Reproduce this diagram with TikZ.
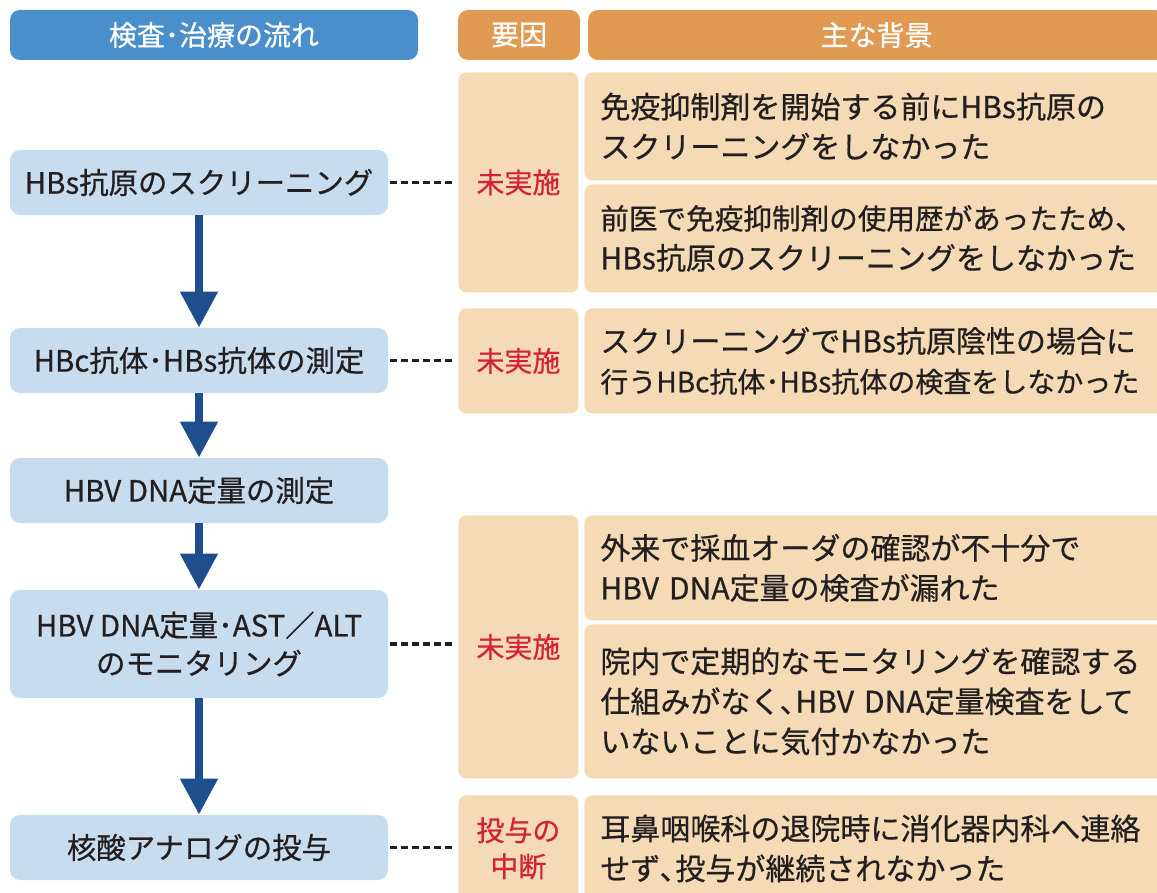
\documentclass[tikz,border=0pt]{standalone}
\usepackage{fontspec}
\setmainfont{Noto Sans CJK JP}[FakeBold=0.6]
\usetikzlibrary{arrows.meta}

\definecolor{hblue}{HTML}{4A8FCB}
\definecolor{sblue}{HTML}{C7DCEE}
\definecolor{horange}{HTML}{E09A52}
\definecolor{panel}{HTML}{F5DBB5}
\definecolor{fred}{HTML}{D4213A}
\definecolor{arrowc}{HTML}{1E4E8C}
\definecolor{txt}{HTML}{231F20}

\begin{document}
\begin{tikzpicture}[x=0.5pt,y=-0.5pt,
  head/.style={rounded corners=5pt,text=white,minimum height=25pt,inner sep=0pt,
    font=\fontsize{14}{16}\selectfont},
  flowhead/.style={head,fill=hblue},
  orhead/.style={head,fill=horange},
  stepbox/.style={fill=sblue,rounded corners=5pt,minimum width=189pt,inner sep=0pt,
    align=center,text=txt,font=\fontsize{14.7}{19}\selectfont},
  cause/.style={fill=panel,rounded corners=4pt,anchor=north west,minimum width=60pt,
    inner sep=0pt,align=center,text=fred,font=\fontsize{14}{18}\selectfont},
  reason/.style={fill=panel,rounded corners=4pt,anchor=north west,text width=277pt,
    inner xsep=8pt,inner ysep=0pt,align=left,text=txt,font=\fontsize{15}{20}\selectfont},
  flow/.style={draw=arrowc,line width=4pt,-{Triangle[width=18pt,length=18pt]}},
  link/.style={draw=txt,line width=1.8pt,dash pattern=on 3.5pt off 2pt,shorten <=1pt,shorten >=1.5pt}]
  \clip (0,0) rectangle (1157,893);
  % headers
  \node[flowhead,minimum width=204pt] (hflow) at (214,35) {検査･治療の流れ};
  \node[orhead,minimum width=61pt] (hcause) at (519,35) {要因};
  \node[orhead,minimum width=288.5pt] (hback) at (876.5,35) {主な背景};
  % flow
  \node[stepbox,minimum height=32.5pt] (s1) at (199,182.5) {HBs抗原のスクリーニング};
  \node[stepbox,minimum height=32.5pt] (s2) at (199,360.5) {HBc抗体･HBs抗体の測定};
  \node[stepbox,minimum height=32.5pt] (s3) at (199,490.5) {HBV DNA定量の測定};
  \node[stepbox,minimum height=54pt] (s4) at (199,644) {HBV DNA定量･AST／ALT\\のモニタリング};
  \node[stepbox,minimum height=32.5pt] (s5) at (199,847.5) {核酸アナログの投与};
  \draw[flow] (s1) -- (s2);
  \draw[flow] (s2) -- (s3);
  \draw[flow] (s3) -- (s4);
  \draw[flow] (s4) -- (s5);
  % causes and backgrounds
  \node[cause,minimum height=110pt] (ca) at (458,72) {未実施};
  \node[reason,minimum height=54pt] (ra1) at (584,72) {免疫抑制剤を開始する前にHBs抗原の\\スクリーニングをしなかった};
  \node[reason,minimum height=54pt] (ra2) at (584,184) {{\fontsize{14.3}{20}\selectfont 前医で免疫抑制剤の使用歴があったため、}\\HBs抗原のスクリーニングをしなかった};
  \node[cause,minimum height=52.5pt] (cb) at (458,308) {未実施};
  \node[reason,minimum height=52.5pt] (rb) at (584,308) {スクリーニングでHBs抗原陰性の場合に\\{\fontsize{14}{20}\selectfont 行うHBc抗体･HBs抗体の検査をしなかった}};
  \node[cause,minimum height=131.5pt] (cc) at (458,515) {未実施};
  \node[reason,minimum height=52.5pt] (rc1) at (584,515) {外来で採血オーダの確認が不十分で\\HBV DNA定量の検査が漏れた};
  \node[reason,minimum height=77pt] (rc2) at (584,624) {院内で定期的なモニタリングを確認する\\仕組みがなく､HBV DNA定量検査をして\\いないことに気付かなかった};
  \node[cause,minimum height=53pt] (cd) at (458,795) {投与の\\中断};
  \node[reason,minimum height=53pt] (rd) at (584,795) {耳鼻咽喉科の退院時に消化器内科へ連絡\\せず､投与が継続されなかった};
  % dashed links
  \draw[link] (s1.east) -- (s1.east -| ca.west);
  \draw[link] (s2.east) -- (s2.east -| cb.west);
  \draw[link] (s4.east) -- (s4.east -| cc.west);
  \draw[link] (s5.east) -- (s5.east -| cd.west);
\end{tikzpicture}
\end{document}
